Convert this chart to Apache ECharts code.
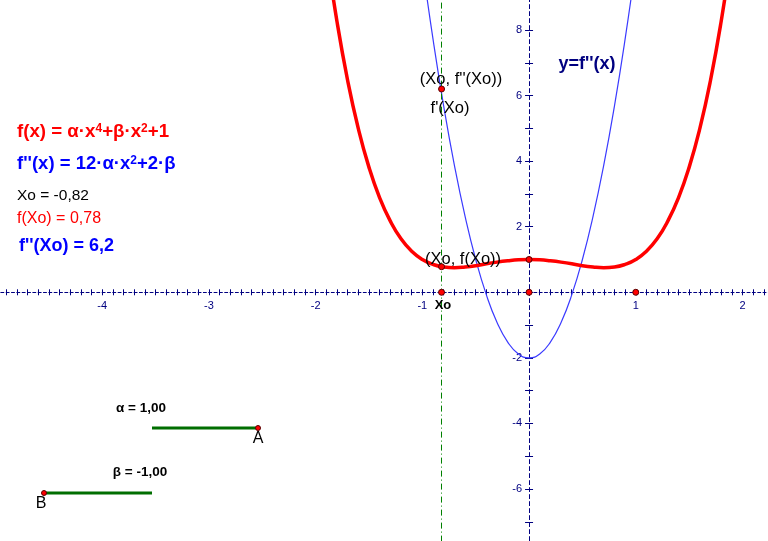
<!DOCTYPE html>
<html>
<head>
<meta charset="utf-8">
<script src="https://cdn.jsdelivr.net/npm/echarts@6/dist/echarts.min.js"></script>
<style>
html,body{margin:0;padding:0;background:#fff;}
#main{width:768px;height:541px;}
</style>
</head>
<body>
<div id="main"></div>
<script>
// ---- data ----
const RED_X = [-1.9,-1.8,-1.7,-1.6,-1.5,-1.4,-1.3,-1.2,-1.1,-1.0,-0.9,-0.8,-0.7,-0.6,-0.5,-0.4,-0.3,-0.2,-0.1,0,
               0.1,0.2,0.3,0.4,0.5,0.6,0.7,0.8,0.9,1.0,1.1,1.2,1.3,1.4,1.5,1.6,1.7,1.8,1.9];
const RED_Y = [10.42,8.26,6.46,4.99,3.81,2.88,2.17,1.63,1.25,1.00,0.85,0.77,0.75,0.77,0.81,0.87,0.92,0.96,0.99,1.00,
               0.99,0.96,0.92,0.87,0.81,0.77,0.75,0.77,0.85,1.00,1.25,1.63,2.17,2.88,3.81,4.99,6.46,8.26,10.42];
const BLUE_X = [-1.0,-0.9,-0.8,-0.7,-0.6,-0.5,-0.4,-0.3,-0.2,-0.1,0,0.1,0.2,0.3,0.4,0.5,0.6,0.7,0.8,0.9,1.0];
const BLUE_Y = [10,7.72,5.68,3.88,2.32,1,-0.08,-0.92,-1.52,-1.88,-2,-1.88,-1.52,-0.92,-0.08,1,2.32,3.88,5.68,7.72,10];
const XO = -0.82;
const F_XO = 0.78;
const F2_XO = 6.2;
const POINT_X = [XO, 0, 1, XO, XO, 0];
const POINT_Y = [0, 0, 0, F2_XO, F_XO, 1];
const X_TICK_LABELS = [-4, -3, -2, -1, 1, 2];
const Y_TICK_LABELS = [-6, -4, -2, 2, 4, 6, 8];

// ---- view ----
const X_MIN = -5, X_MAX = 2.3, Y_MIN = -8, Y_MAX = 9;
const G_LEFT = -4.5, G_TOP = -2.8, G_W = 779, G_H = 557.4;

const NAVY = '#000080';
const FONT = 'Arial, "Liberation Sans", sans-serif';

function zip(a, b) { return a.map((v, i) => [v, b[i]]); }
function labelFmt(list) {
  return function (v) {
    const r = Math.round(v);
    return (Math.abs(v - r) < 1e-6 && list.indexOf(r) >= 0) ? String(r) : '';
  };
}

const chart = echarts.init(document.getElementById('main'), null, {renderer: 'canvas'});

// place axes on the zero lines of the other axis via offsets (v6 keeps labels at grid edge with onZero)
const OFF_BOTTOM = -G_H * (0 - Y_MIN) / (Y_MAX - Y_MIN);
const OFF_TOP = -G_H * (Y_MAX - 0) / (Y_MAX - Y_MIN);
const OFF_LEFT = -G_W * (0 - X_MIN) / (X_MAX - X_MIN);
const OFF_RIGHT = -G_W * (X_MAX - 0) / (X_MAX - X_MIN);

function xAxisDef(pos, withLabel, off) {
  return {
    type: 'value', min: X_MIN, max: X_MAX, interval: 0.1, position: pos, offset: off,
    axisLine: {show: true, onZero: false, lineStyle: {color: NAVY, width: 1, type: [3, 2.33], opacity: withLabel ? 1 : 0}},
    axisTick: {show: true, length: 3, lineStyle: {color: NAVY, width: 1}},
    axisLabel: {show: withLabel, formatter: labelFmt(X_TICK_LABELS), color: NAVY, fontSize: 11, fontFamily: FONT, margin: 8},
    splitLine: {show: false}
  };
}
function yAxisDef(pos, withLabel, off) {
  return {
    type: 'value', min: Y_MIN, max: Y_MAX, interval: 1, position: pos, offset: off,
    axisLine: {show: true, onZero: false, lineStyle: {color: NAVY, width: 1, type: [4, 3], opacity: withLabel ? 1 : 0}},
    axisTick: {show: true, length: 4, lineStyle: {color: NAVY, width: 1}},
    axisLabel: {show: withLabel, formatter: labelFmt(Y_TICK_LABELS), color: NAVY, fontSize: 11, fontFamily: FONT, margin: 7},
    splitLine: {show: false}
  };
}

function txt(x, y, text, opts) {
  return {
    type: 'text', x: x, y: y, z: 100,
    style: Object.assign({
      text: text, fill: '#000', fontSize: 16, fontWeight: 'normal', fontFamily: FONT,
      textAlign: 'left', textVerticalAlign: 'middle'
    }, opts || {})
  };
}
function sup(color, size) {
  return {fontSize: size || 12, fontWeight: 'bold', fontFamily: FONT, fill: color, verticalAlign: 'top'};
}

const GREEN = '#006e00';

const option = {
  animation: false,
  backgroundColor: '#ffffff',
  grid: {left: G_LEFT, top: G_TOP, width: G_W, height: G_H, containLabel: false, outerBoundsMode: 'none'},
  xAxis: [xAxisDef('bottom', true, OFF_BOTTOM), xAxisDef('top', false, OFF_TOP)],
  yAxis: [yAxisDef('left', true, OFF_LEFT), yAxisDef('right', false, OFF_RIGHT)],
  series: [
    {
      type: 'line', data: zip(BLUE_X, BLUE_Y), smooth: true, symbol: 'none',
      lineStyle: {color: '#3a3aff', width: 1.2}, z: 3
    },
    {
      type: 'line', data: zip(RED_X, RED_Y), smooth: true, symbol: 'none',
      lineStyle: {color: '#ff0000', width: 3.5}, z: 4,
      markLine: {
        silent: true, symbol: 'none', label: {show: false},
        lineStyle: {color: '#008000', width: 1, type: [6, 3, 1, 3]},
        data: [{xAxis: XO}]
      }
    },
    {
      type: 'scatter', data: zip(POINT_X, POINT_Y), symbolSize: 6, z: 10,
      itemStyle: {color: '#ff0000', borderColor: '#5a0000', borderWidth: 1, opacity: 1}
    }
  ],
  graphic: [
    txt(17, 132, 'f(x) = α·x{s|4}+β·x{s|2}+1', {fill: '#ff0000', fontSize: 18.7, fontWeight: 'bold', rich: {s: sup('#ff0000')}}),
    txt(17, 164, "f''(x) = 12·α·x{s|2}+2·β", {fill: '#0000ff', fontSize: 18.5, fontWeight: 'bold', rich: {s: sup('#0000ff')}}),
    txt(17, 196, 'Xo = -0,82', {fill: '#000000', fontSize: 15.5}),
    txt(17, 219, 'f(Xo) = 0,78', {fill: '#ff0000', fontSize: 16}),
    txt(19, 246, "f''(Xo) = 6,2", {fill: '#0000ff', fontSize: 18, fontWeight: 'bold'}),

    txt(461, 79, "(Xo, f''(Xo))", {textAlign: 'center', fontSize: 16.5}),
    txt(450, 108, "f'(Xo)", {textAlign: 'center', fontSize: 16.5}),
    txt(463, 259, '(Xo, f(Xo))', {textAlign: 'center', fontSize: 16.5}),
    txt(587, 64, "y=f''(x)", {textAlign: 'center', fill: '#000080', fontSize: 18, fontWeight: 'bold'}),
    txt(443, 305, 'Xo', {textAlign: 'center', fontSize: 13, fontWeight: 'bold'}),

    txt(141, 408, 'α = 1,00', {textAlign: 'center', fontSize: 13.5, fontWeight: 'bold'}),
    txt(140, 472, 'β = -1,00', {textAlign: 'center', fontSize: 13.5, fontWeight: 'bold'}),
    {type: 'line', z: 90, shape: {x1: 152, y1: 428, x2: 258, y2: 428}, style: {stroke: GREEN, lineWidth: 3}},
    {type: 'line', z: 90, shape: {x1: 44, y1: 493, x2: 152, y2: 493}, style: {stroke: GREEN, lineWidth: 3}},
    {type: 'circle', z: 95, shape: {cx: 258, cy: 428, r: 2.5}, style: {fill: '#ff0000', stroke: '#5a0000', lineWidth: 1}},
    {type: 'circle', z: 95, shape: {cx: 44, cy: 493, r: 2.5}, style: {fill: '#ff0000', stroke: '#5a0000', lineWidth: 1}},
    txt(258, 439, 'A', {textAlign: 'center', fontSize: 16}),
    txt(41, 504, 'B', {textAlign: 'center', fontSize: 16})
  ]
};
chart.setOption(option);
</script>
</body>
</html>
